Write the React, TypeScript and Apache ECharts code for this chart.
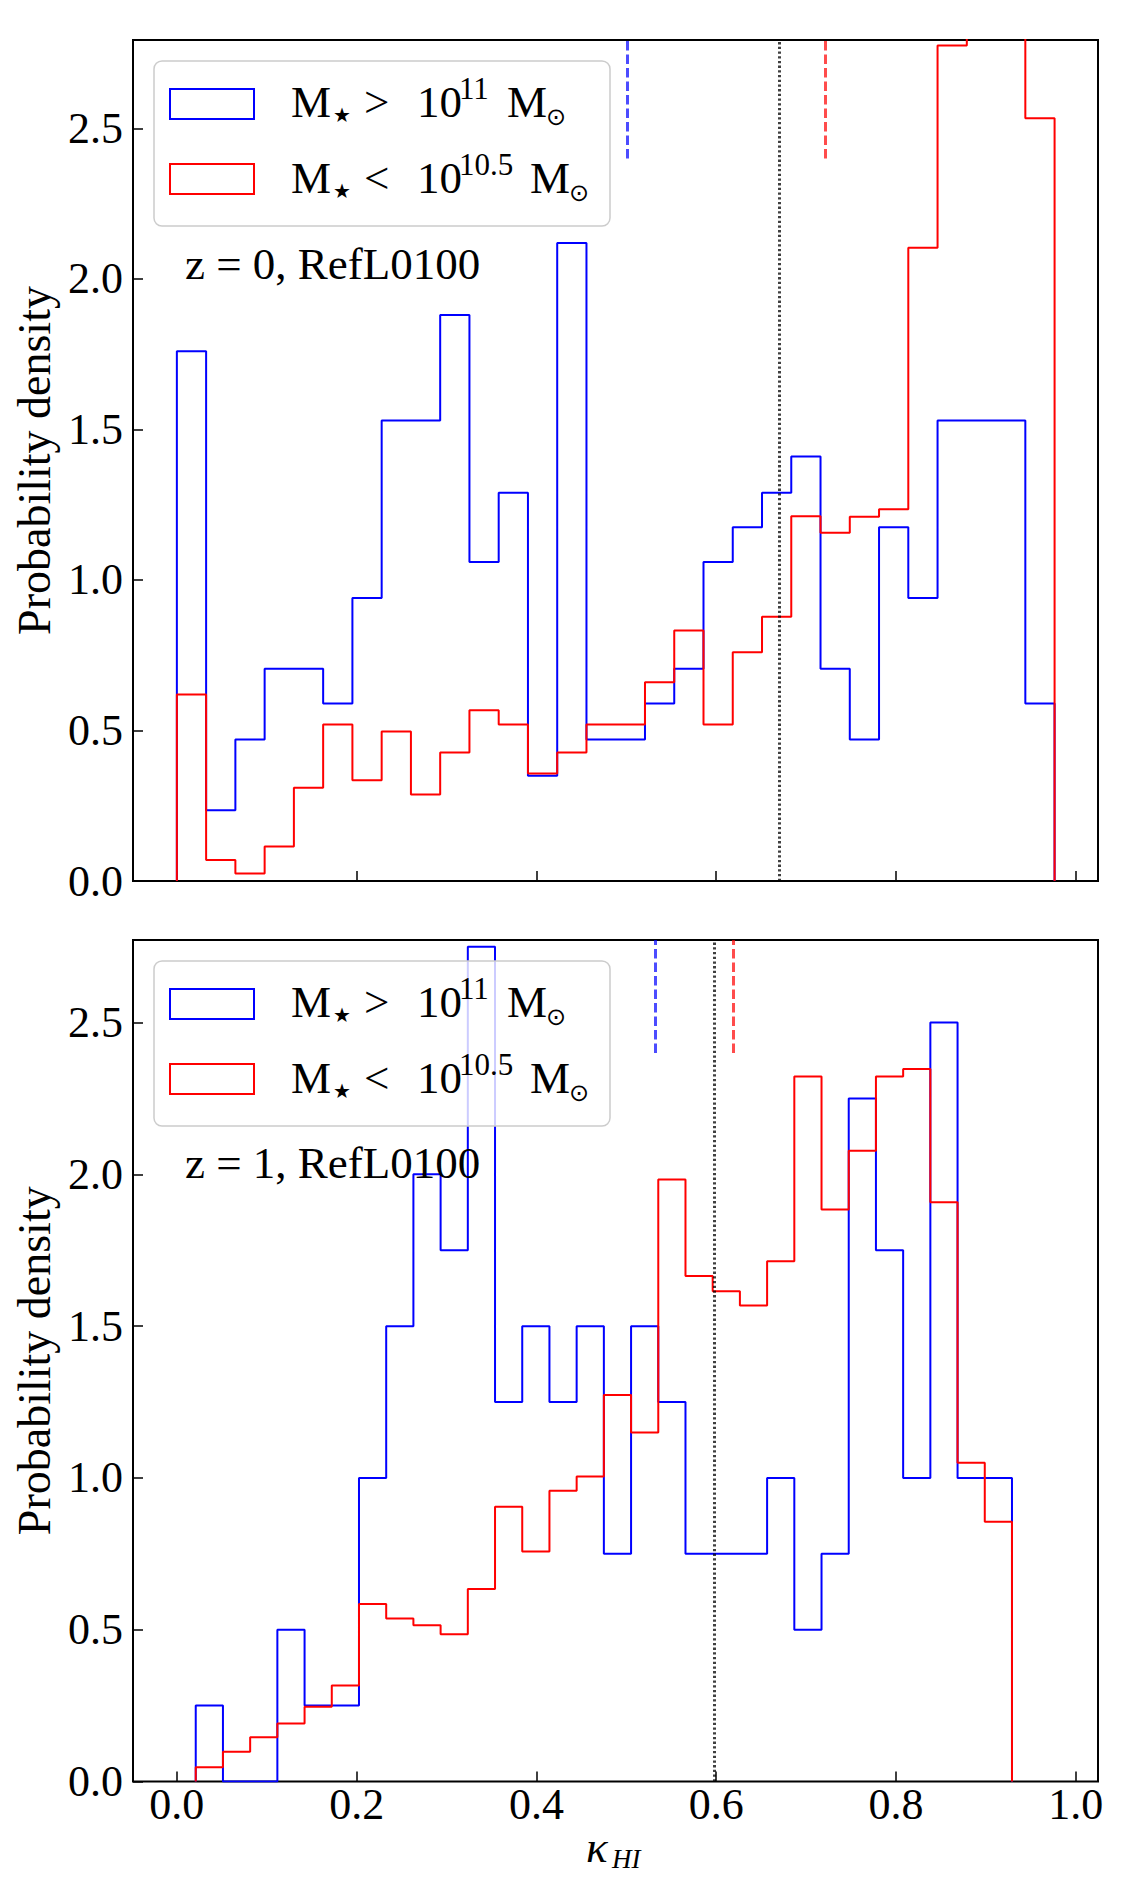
import React, { useEffect, useRef } from "react";
import * as echarts from "echarts";

// ---------- data ----------
const TOP_BIN_START = 0.0;
const TOP_BIN_WIDTH = 0.03255;
const BOTTOM_BIN_START = 0.021;
const BOTTOM_BIN_WIDTH = 0.03027;

const topBlue = [1.76, 0.235, 0.47, 0.705, 0.705, 0.59, 0.94, 1.53, 1.53, 1.88, 1.06, 1.29, 0.35, 2.12, 0.47, 0.47, 0.59, 0.705, 1.06, 1.175, 1.29, 1.41, 0.705, 0.47, 1.175, 0.94, 1.53, 1.53, 1.53, 0.59];
const topRed = [0.62, 0.07, 0.025, 0.115, 0.31, 0.52, 0.335, 0.497, 0.287, 0.427, 0.567, 0.52, 0.357, 0.427, 0.52, 0.52, 0.66, 0.832, 0.52, 0.76, 0.878, 1.212, 1.157, 1.21, 1.235, 2.104, 2.776, 4.2, 4.4, 2.534];
const bottomBlue = [0.25, 0, 0, 0.5, 0.25, 0.25, 1.0, 1.5, 2.0, 1.75, 2.75, 1.25, 1.5, 1.25, 1.5, 0.75, 1.5, 1.25, 0.75, 0.75, 0.75, 1.0, 0.5, 0.75, 2.25, 1.75, 1.0, 2.5, 1.0, 1.0];
const bottomRed = [0.047, 0.098, 0.146, 0.191, 0.246, 0.316, 0.585, 0.537, 0.515, 0.485, 0.634, 0.905, 0.758, 0.958, 1.005, 1.273, 1.15, 1.983, 1.665, 1.615, 1.568, 1.714, 2.322, 1.884, 2.078, 2.322, 2.347, 1.908, 1.05, 0.856];

// median markers
const topMarkers = { blue: 0.501, red: 0.721, all: 0.67 };
const bottomMarkers = { blue: 0.5326, red: 0.619, all: 0.5975 };
const MARKER_START = 2.4;

const xTicks = [0, 0.2, 0.4, 0.6, 0.8, 1.0];
const yTicks = [0, 0.5, 1.0, 1.5, 2.0, 2.5];
const X_MIN = -0.0488;
const X_MAX = 1.0248;
const TOP_Y_MAX = 2.794;
const BOTTOM_Y_MAX = 2.772;

const panelLabels = ["z = 0, RefL0100", "z = 1, RefL0100"];
const yName = "Probability density";

// ---------- styling ----------
const FONT = '"Liberation Serif", "DejaVu Serif", serif';
const SYM = '"DejaVu Sans", "Noto Sans", sans-serif';
const BLUE = "#0000ff";
const RED = "#ff0000";

function steps(start: number, width: number, values: number[]) {
  const pts: number[][] = [[start, 0]];
  values.forEach((v, i) => pts.push([start + i * width, v]));
  const end = start + values.length * width;
  pts.push([end, values[values.length - 1]]);
  pts.push([end, 0]);
  return pts;
}

function xAxisCfg(gridIndex: number, showLabels: boolean) {
  return {
    type: "value",
    gridIndex,
    min: X_MIN,
    max: X_MAX,
    axisLine: { show: false, onZero: false },
    axisTick: {
      show: true,
      inside: true,
      length: 10,
      lineStyle: { color: "#000", width: 1.5 },
      customValues: xTicks,
    },
    axisLabel: {
      show: showLabels,
      customValues: xTicks,
      formatter: (v: number) => v.toFixed(1),
      fontFamily: FONT,
      fontSize: 44,
      color: "#000",
      margin: 1,
    },
    splitLine: { show: false },
  };
}

function yAxisCfg(gridIndex: number, max: number) {
  return {
    type: "value",
    gridIndex,
    min: 0,
    max,
    axisLine: { show: false, onZero: false },
    axisTick: {
      show: true,
      inside: true,
      length: 10,
      lineStyle: { color: "#000", width: 1.5 },
      customValues: yTicks,
    },
    axisLabel: {
      customValues: yTicks,
      formatter: (v: number) => v.toFixed(1),
      fontFamily: FONT,
      fontSize: 44,
      color: "#000",
      margin: 10,
    },
    splitLine: { show: false },
    name: yName,
    nameLocation: "middle",
    nameGap: 68,
    nameTextStyle: { fontFamily: FONT, fontSize: 46, color: "#000" },
  };
}

function markLines(m: { blue: number; red: number; all: number }, ymax: number) {
  return {
    silent: true,
    symbol: ["none", "none"],
    label: { show: false },
    emphasis: { disabled: true },
    lineStyle: { width: 3, opacity: 1 },
    data: [
      [
        { coord: [m.blue, MARKER_START], lineStyle: { color: "rgba(0,0,255,0.7)", width: 3, type: [9.5, 4] } },
        { coord: [m.blue, ymax], lineStyle: { color: "rgba(0,0,255,0.7)", width: 3, type: [9.5, 4] } },
      ],
      [
        { coord: [m.red, MARKER_START], lineStyle: { color: "rgba(255,0,0,0.7)", width: 3, type: [9.5, 4] } },
        { coord: [m.red, ymax], lineStyle: { color: "rgba(255,0,0,0.7)", width: 3, type: [9.5, 4] } },
      ],
      [
        { coord: [m.all, 0], lineStyle: { color: "rgba(0,0,0,0.75)", width: 3, type: [2.3, 2.4] } },
        { coord: [m.all, ymax], lineStyle: { color: "rgba(0,0,0,0.75)", width: 3, type: [2.3, 2.4] } },
      ],
    ],
  };
}

function histSeries(xi: number, data: number[][], color: string, z: number, ml?: any) {
  const s: any = {
    type: "line",
    xAxisIndex: xi,
    yAxisIndex: xi,
    data,
    step: "end",
    symbol: "none",
    lineStyle: { color, width: 2 },
    z,
    silent: true,
  };
  if (ml) s.markLine = ml;
  return s;
}

function txt(text: string, x: number, y: number, fontSize: number, family = FONT, extra: any = {}) {
  return {
    type: "text",
    x,
    y,
    z: 102,
    silent: true,
    style: {
      text,
      fontSize,
      fontFamily: family,
      fill: "#000",
      align: "left",
      verticalAlign: "middle",
      ...extra,
    },
  };
}

function legendGroup(dy: number) {
  const t1 = 102 + dy;
  const t2 = 178 + dy;
  return {
    type: "group",
    children: [
      {
        type: "rect",
        z: 100,
        silent: true,
        shape: { x: 154, y: 61 + dy, width: 456, height: 165, r: 8 },
        style: { fill: "rgba(255,255,255,0.8)", stroke: "#cccccc", lineWidth: 1.5 },
      },
      {
        type: "rect",
        z: 101,
        silent: true,
        shape: { x: 170, y: 89 + dy, width: 84, height: 30 },
        style: { fill: "none", stroke: BLUE, lineWidth: 2 },
      },
      {
        type: "rect",
        z: 101,
        silent: true,
        shape: { x: 170, y: 164 + dy, width: 84, height: 30 },
        style: { fill: "none", stroke: RED, lineWidth: 2 },
      },
      txt("M", 291, t1, 45),
      txt("★", 333, t1 + 13, 20, SYM),
      txt(">", 364, t1, 45),
      txt("10", 417, t1, 45),
      txt("11", 459, t1 - 14, 31),
      txt("M", 507, t1, 45),
      txt("⊙", 546, t1 + 15, 24, SYM),
      txt("M", 291, t2, 45),
      txt("★", 333, t2 + 13, 20, SYM),
      txt("<", 364, t2, 45),
      txt("10", 417, t2, 45),
      txt("10.5", 459, t2 - 14, 31),
      txt("M", 530, t2, 45),
      txt("⊙", 569, t2 + 15, 24, SYM),
    ],
  };
}

export default function App() {
  const ref = useRef<HTMLDivElement>(null);
  useEffect(() => {
    if (!ref.current) return;
    const chart = echarts.init(ref.current, undefined, { renderer: "svg" });
    const option: any = {
      animation: false,
      backgroundColor: "#ffffff",
      grid: [
        { left: 133, top: 40, width: 965, height: 841, show: true, borderColor: "#000", borderWidth: 2, backgroundColor: "transparent" },
        { left: 133, top: 940, width: 965, height: 841.5, show: true, borderColor: "#000", borderWidth: 2, backgroundColor: "transparent" },
      ],
      xAxis: [xAxisCfg(0, false), xAxisCfg(1, true)],
      yAxis: [yAxisCfg(0, TOP_Y_MAX), yAxisCfg(1, BOTTOM_Y_MAX)],
      series: [
        histSeries(0, steps(TOP_BIN_START, TOP_BIN_WIDTH, topBlue), BLUE, 3),
        histSeries(0, steps(TOP_BIN_START, TOP_BIN_WIDTH, topRed), RED, 4, markLines(topMarkers, TOP_Y_MAX)),
        histSeries(1, steps(BOTTOM_BIN_START, BOTTOM_BIN_WIDTH, bottomBlue), BLUE, 3),
        histSeries(1, steps(BOTTOM_BIN_START, BOTTOM_BIN_WIDTH, bottomRed), RED, 4, markLines(bottomMarkers, BOTTOM_Y_MAX)),
      ],
      graphic: [
        legendGroup(0),
        legendGroup(900),
        txt(panelLabels[0], 185, 263.5, 45),
        txt(panelLabels[1], 185, 1163, 45),
        txt("κ", 586, 1847, 45, FONT, { fontStyle: "italic" }),
        txt("HI", 612, 1859, 27, FONT, { fontStyle: "italic" }),
      ],
    };
    chart.setOption(option);
    return () => chart.dispose();
  }, []);
  return (
    <div
      ref={ref}
      style={{ position: "absolute", left: 0, top: 0, width: 1136, height: 1897, background: "#fff" }}
    />
  );
}
